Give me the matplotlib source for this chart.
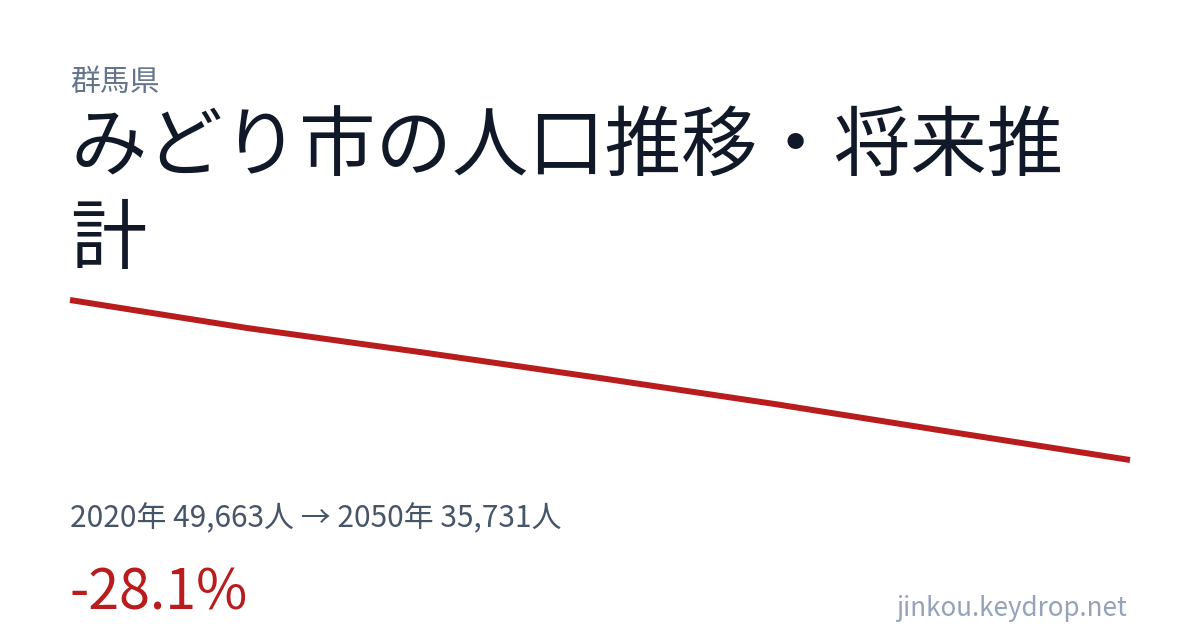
import matplotlib
matplotlib.use("Agg")
import matplotlib.pyplot as plt

plt.rcParams['font.family'] = ['Noto Sans CJK JP', 'DejaVu Sans']

# 人口推計（2020年〜2050年、5年ごと）
years = [2020, 2025, 2030, 2035, 2040, 2045, 2050]
population = [49663, 47230, 45090, 42870, 40580, 38140, 35731]

prefecture = "群馬県"
title = "みどり市の人口推移・将来推\n計"
change_pct = (population[-1] - population[0]) / population[0] * 100
summary = f"{years[0]}年 {population[0]:,}人 → {years[-1]}年 {population[-1]:,}人"
site = "jinkou.keydrop.net"

W, H = 1200, 630
fig = plt.figure(figsize=(W / 100, H / 100), dpi=100)
fig.patch.set_facecolor("white")

# 線グラフ（軸なし）
ax = fig.add_axes([70 / W, (H - 460) / H, 1060 / W, 160 / H])
ax.plot(years, population, color="#b91c1c", lw=4.3, solid_capstyle="butt",
        clip_on=False)
ax.set_xlim(years[0], years[-1])
ax.set_ylim(min(population), max(population))
ax.axis("off")

fig.text(70 / W, 1 - 91 / H, prefecture, fontsize=21.5, color="#64748b",
         va="baseline", ha="left")
# 複数行の場合は最終行のベースラインに合わせる
fig.text(70 / W, 1 - 263 / H, title, fontsize=55, color="#111827",
         va="baseline", ha="left", linespacing=1.2)
fig.text(70 / W, 1 - 527 / H, summary, fontsize=21.5, color="#475569",
         va="baseline", ha="left")
fig.text(70 / W, 1 - 609 / H, f"{change_pct:.1f}%", fontsize=40,
         color="#b91c1c", va="baseline", ha="left")
fig.text(1127 / W, 1 - 616 / H, site, fontsize=18.7, color="#94a3b8",
         va="baseline", ha="right")

fig.savefig("out.png", dpi=100, facecolor="white")
